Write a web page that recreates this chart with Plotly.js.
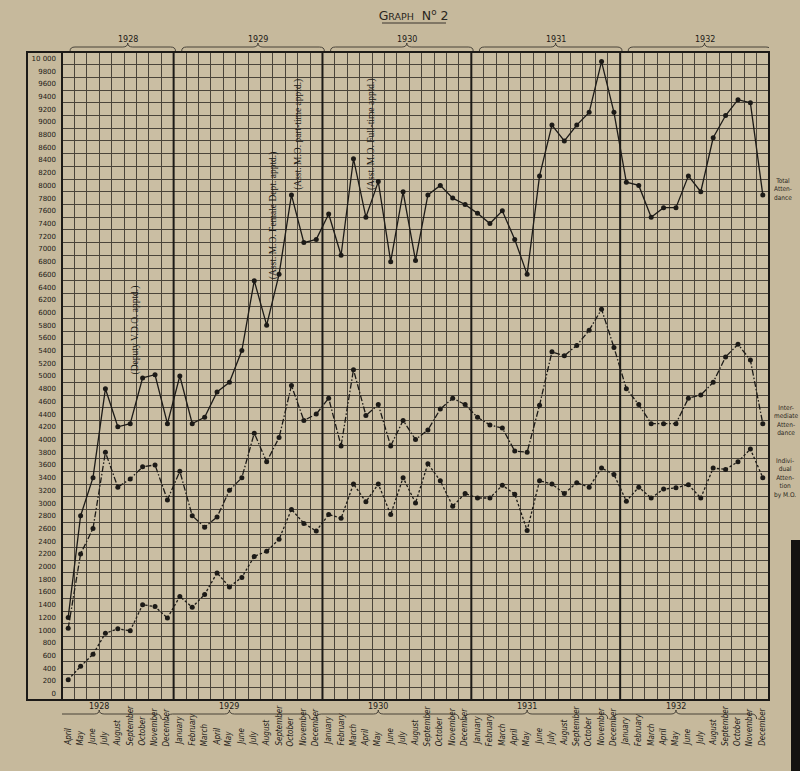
<!DOCTYPE html>
<html><head><meta charset="utf-8">
<script src="https://cdn.plot.ly/plotly-3.0.1.min.js"></script>
<style>html,body{margin:0;padding:0;background:#c6b99c;}#chart{width:800px;height:771px;}</style>
</head><body><div id="chart"></div>
<script>
// ---- data ----
const months = [
 'April','May','June','July','August','September','October','November','December',
 'January','February','March','April','May','June','July','August','September','October','November','December',
 'January','February','March','April','May','June','July','August','September','October','November','December',
 'January','February','March','April','May','June','July','August','September','October','November','December',
 'January','February','March','April','May','June','July','August','September','October','November','December'];
const years = ['1928','1929','1930','1931','1932'];
const yearMonths = [9, 12, 12, 12, 12];

const totalAttendance = [
 1200, 2800, 3400, 4800, 4200, 4250, 4970, 5020, 4250,
 5000, 4250, 4350, 4750, 4900, 5400, 6500, 5800, 6600, 7850, 7100, 7150,
 7550, 6900, 8420, 7500, 8060, 6800, 7900, 6820, 7850, 8000, 7800, 7700,
 7560, 7400, 7600, 7150, 6600, 8150, 8950, 8700, 8950, 9150, 9950, 9150,
 8050, 8000, 7500, 7650, 7650, 8150, 7900, 8750, 9100, 9350, 9300, 7850];
const intermediateAttendance = [
 1030, 2200, 2600, 3800, 3250, 3380, 3570, 3600, 3050,
 3500, 2800, 2620, 2780, 3200, 3400, 4100, 3650, 4030, 4850, 4300, 4400,
 4650, 3900, 5100, 4380, 4550, 3900, 4300, 4000, 4150, 4480, 4650, 4550,
 4350, 4230, 4180, 3820, 3800, 4540, 5380, 5320, 5480, 5720, 6050, 5450,
 4800, 4550, 4250, 4250, 4250, 4650, 4700, 4900, 5300, 5500, 5250, 4250];
const individualAttention = [
 220, 430, 620, 950, 1020, 990, 1400, 1370, 1190,
 1530, 1360, 1560, 1900, 1680, 1830, 2160, 2240, 2430, 2900, 2680, 2560,
 2820, 2760, 3300, 3020, 3300, 2820, 3400, 3000, 3620, 3350, 2950, 3150,
 3080, 3080, 3280, 3140, 2570, 3350, 3300, 3150, 3320, 3250, 3550, 3450,
 3030, 3250, 3080, 3220, 3240, 3290, 3080, 3550, 3530, 3650, 3850, 3400];

const yTickVals = [];
for (let v = 0; v <= 10000; v += 200) yTickVals.push(v);
const yTickText = yTickVals.map(v => v === 10000 ? '10 000' : String(v));

const seriesNames = ['Total<br>Atten-<br>dance', 'Inter-<br>mediate<br>Atten-<br>dance', 'Indivi-<br>dual<br>Atten-<br>tion<br>by M.O.'];
const notes = ['(Deputy V.D.O. apptd.)', '(Asst. M.O. Female Dept. apptd.)', '(Asst. M.O. part-time apptd.)', '(Asst. M.O. Full-time apptd.)'];
const noteMonth = [5.4, 16.5, 18.6, 24.5];
const noteLevel = [5720, 7530, 8810, 8810];

// ---- build ----
const idx = months.map((m, i) => i);
const ink = '#1c1a17';
const gridCol = '#4a443a';

const mk = {size: 5, color: ink};
const traces = [
 {x: idx, y: totalAttendance, mode: 'lines+markers', line: {color: ink, width: 1.3}, marker: mk, hoverinfo: 'y'},
 {x: idx, y: intermediateAttendance, mode: 'lines+markers', line: {color: ink, width: 1.3, dash: '6px,2px,1.5px,2px'}, marker: mk, hoverinfo: 'y'},
 {x: idx, y: individualAttention, mode: 'lines+markers', line: {color: ink, width: 1.3, dash: '2.5px,2px'}, marker: mk, hoverinfo: 'y'}
];

const L = 62, R = 769, T = 52, B = 700;
const pw = R - L, ph = B - T;
const py = p => (B - p) / ph;   // pixel row -> paper y
const px = p => (p - L) / pw;   // pixel col -> paper x

const shapes = [];
const annotations = [];

// year boundaries, braces, year labels
let start = 0;
years.forEach((yr, k) => {
  const n = yearMonths[k];
  const x0 = start - 0.5, x1 = start + n - 0.5, xm = (x0 + x1) / 2;
  if (k > 0) shapes.push({type: 'line', xref: 'x', yref: 'paper', x0: x0, x1: x0, y0: 0, y1: 1, line: {color: ink, width: 2}});
  [[47, 51, 43, 0.8, 40], [714, 719, 710, -1.5, 706]].forEach(([yl, ye, yp, shift, ylab]) => {
    const a = x0 + 0.25 + shift * 0.5, b = x1 - 0.25 + shift * 0.5, m = xm + shift;
    const path = `M ${a},${py(ye)} Q ${a},${py(yl)} ${a + 0.4},${py(yl)} L ${m - 0.4},${py(yl)} Q ${m},${py(yl)} ${m},${py(yp)} Q ${m},${py(yl)} ${m + 0.4},${py(yl)} L ${b - 0.4},${py(yl)} Q ${b},${py(yl)} ${b},${py(ye)}`;
    shapes.push({type: 'path', xref: 'x', yref: 'paper', path: path, line: {color: '#3a352e', width: 0.9}});
    annotations.push({text: yr, x: m, xref: 'x', y: py(ylab), yref: 'paper', showarrow: false,
      font: {family: 'DejaVu Sans, sans-serif', size: 8, color: ink}, xanchor: 'center', yanchor: 'middle'});
  });
  start += n;
});

// frames
shapes.push({type: 'rect', xref: 'paper', yref: 'paper', x0: 0, x1: 1, y0: 0, y1: 1, line: {color: ink, width: 2}});
shapes.push({type: 'rect', xref: 'paper', yref: 'paper', x0: px(27), x1: 0, y0: 0, y1: 1, line: {color: ink, width: 2}});
// title underline
shapes.push({type: 'line', xref: 'paper', yref: 'paper', x0: px(382), x1: px(446), y0: py(23), y1: py(23), line: {color: '#3a352e', width: 1}});
// dark edge of photo
shapes.push({type: 'rect', xref: 'paper', yref: 'paper', x0: px(791), x1: px(802), y0: py(772), y1: py(540), line: {width: 0}, fillcolor: '#141210'});

// month labels
months.forEach((m, i) => {
  annotations.push({text: m, x: i, xref: 'x', y: py(748), yref: 'paper', showarrow: false, textangle: -90,
    xanchor: 'center', yanchor: 'bottom',
    font: {family: 'Liberation Sans Narrow, DejaVu Sans Condensed, sans-serif', size: 8, color: ink, style: 'italic'}});
});

// notes
notes.forEach((t, k) => {
  annotations.push({text: t, x: noteMonth[k], xref: 'x', y: noteLevel[k], yref: 'y', showarrow: false, textangle: -90,
    xanchor: 'center', yanchor: 'middle',
    font: {family: 'Liberation Serif, DejaVu Serif, serif', size: 9.5, color: ink}});
});

// series labels at right
const labelY = [190, 420, 478];
seriesNames.forEach((t, k) => {
  annotations.push({text: t, x: px(772), xref: 'paper', y: py(labelY[k]), yref: 'paper', showarrow: false,
    xanchor: 'left', yanchor: 'middle', align: 'center',
    font: {family: 'DejaVu Sans Condensed, sans-serif', size: 6.5, color: '#2a2620'}});
});

const layout = {
  width: 800, height: 771,
  margin: {l: L, r: 800 - R, t: T, b: 771 - B, pad: 0},
  paper_bgcolor: '#c6b99c',
  plot_bgcolor: '#cabea3',
  showlegend: false,
  title: {text: 'G<span style="font-size:9.5px">RAPH</span>  N<sup>o</sup> 2', x: 0.517, xref: 'container', xanchor: 'center',
          y: 1 - 16 / 771, yref: 'container', yanchor: 'middle',
          font: {family: 'DejaVu Sans, sans-serif', size: 12.5, color: '#2a2620'}},
  xaxis: {range: [-0.5, 56.5], tickmode: 'linear', tick0: -0.5, dtick: 1, showgrid: true, gridcolor: gridCol, gridwidth: 1,
          showticklabels: false, ticks: '', zeroline: false, showline: false, fixedrange: true},
  yaxis: {range: [-100, 10100], tickmode: 'array', tickvals: yTickVals, ticktext: yTickText, showgrid: false, ticks: '',
          ticklabelstandoff: 5, zeroline: false, showline: false, fixedrange: true,
          tickfont: {family: 'DejaVu Sans, sans-serif', size: 7, color: ink},
          minor: {tickmode: 'linear', tick0: -100, dtick: 200, showgrid: true, gridcolor: gridCol, gridwidth: 1, ticks: ''}},
  shapes: shapes,
  annotations: annotations
};

Plotly.newPlot('chart', traces, layout, {displayModeBar: false, staticPlot: true});
</script></body></html>
